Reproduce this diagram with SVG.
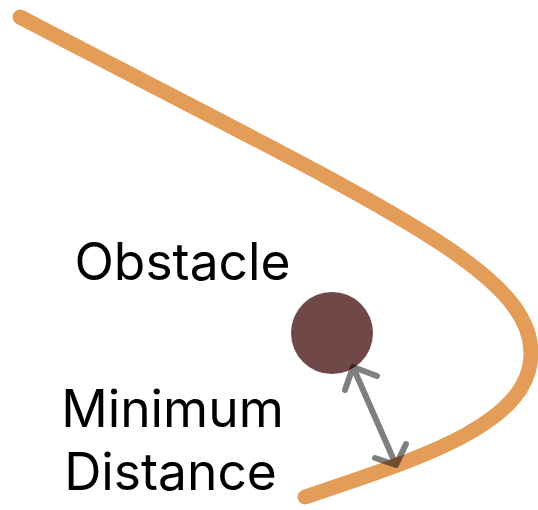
<svg xmlns="http://www.w3.org/2000/svg" width="538" height="510" viewBox="0 0 538 510">
<style>
.lbl{font-family:Inter,"Noto Sans","Liberation Sans",sans-serif;font-size:51.5px;fill:#000;text-anchor:middle}
.path{fill:none;stroke:#E39D58;stroke-width:15;stroke-linecap:round}
.arrow{fill:none;stroke:#000;stroke-opacity:0.5;stroke-width:6;stroke-linecap:round;stroke-linejoin:round}
</style>
<g id="trajectory">
<path class="path" d="M20,17 C380,205 531,270 531,353 C531,423 425,457 305,497"/>
</g>
<g id="obstacle">
<circle cx="332" cy="333" r="41" fill="#714848"/>
</g>
<g id="labels">
<text class="lbl" x="182.5" y="280">Obstacle</text>
<text class="lbl" x="172.5" y="427">Minimum</text>
<text class="lbl" x="170.5" y="490">Distance</text>
</g>
<g id="connectors">
<path class="arrow" d="M345,390 L353,367 L377,376 M353,367 L396,465 M375,458 L396,465 L406,444"/>
</g>
</svg>
